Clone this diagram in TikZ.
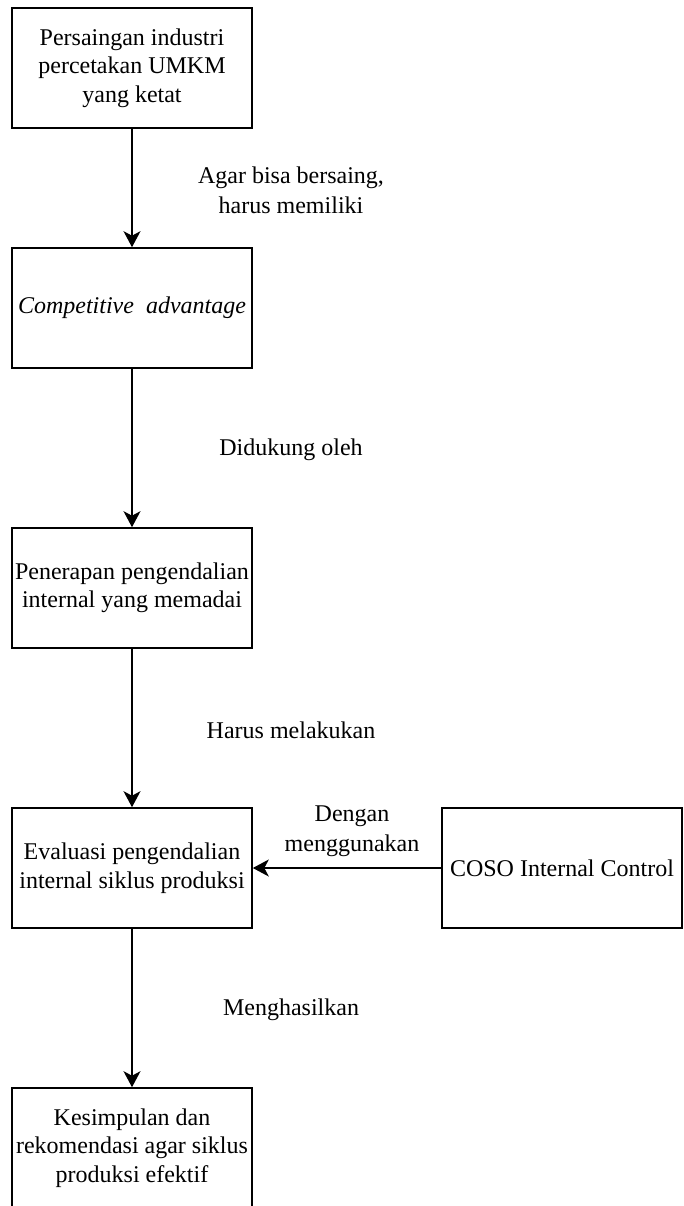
\documentclass[tikz,border=0pt]{standalone}
\usepackage{fontspec}
\setmainfont{Liberation Serif}
\usetikzlibrary{arrows.meta}
\begin{document}
\begin{tikzpicture}[x=1pt,y=-1pt,
  box/.style={draw, line width=1.6pt, minimum width=240pt, minimum height=120pt,
    align=center, inner sep=0pt, font=\fontsize{24}{28.5}\selectfont},
  lbl/.style={align=center, inner sep=0pt, font=\fontsize{24}{30}\selectfont},
  conn/.style={line width=1.6pt, -{Stealth[length=16pt,width=17pt,inset=4.5pt]}}]
\useasboundingbox (0,0) rectangle (683,1206);
\clip (0,0) rectangle (683,1206);
\node[box] (b1) at (132,68) {Persaingan industri\\percetakan UMKM\\yang ketat};
\node[box] (b2) at (132,308) {\textit{Competitive\ \ advantage}};
\node[box] (b3) at (132,588) {Penerapan pengendalian\\internal yang memadai};
\node[box] (b4) at (132,868) {Evaluasi pengendalian\\internal siklus produksi};
\node[box] (b5) at (562,868) {COSO Internal Control};
\node[box] (b6) at (132,1148) {Kesimpulan dan\\rekomendasi agar siklus\\produksi efektif};
\draw[conn] (b1) -- (b2);
\draw[conn] (b2) -- (b3);
\draw[conn] (b3) -- (b4);
\draw[conn] (b4) -- (b6);
\draw[conn] (b5) -- (b4);
\node[lbl] (l1) at (291,190) {Agar bisa bersaing,\\harus memiliki};
\node[lbl] (l2) at (291,450) {Didukung oleh};
\node[lbl] (l3) at (291,730) {Harus melakukan};
\node[lbl] (l4) at (352,831) {Dengan\\menggunakan};
\node[lbl] (l5) at (291,1010) {Menghasilkan};
\end{tikzpicture}
\end{document}
